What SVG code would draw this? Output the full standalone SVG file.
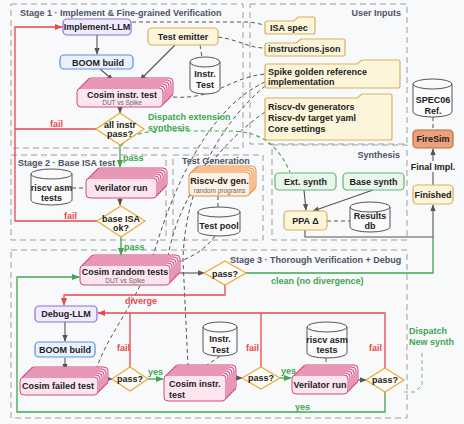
<svg xmlns="http://www.w3.org/2000/svg" width="464" height="424" viewBox="0 0 464 424">
<defs>
<marker id="ad" viewBox="0 0 10 10" refX="9" refY="5" markerWidth="6" markerHeight="6" orient="auto"><path d="M0,1 L10,5 L0,9 z" fill="#555"/></marker>
<marker id="ar" viewBox="0 0 10 10" refX="9" refY="5" markerWidth="6" markerHeight="6" orient="auto"><path d="M0,1 L10,5 L0,9 z" fill="#e5484d"/></marker>
<marker id="ag" viewBox="0 0 10 10" refX="9" refY="5" markerWidth="6" markerHeight="6" orient="auto"><path d="M0,1 L10,5 L0,9 z" fill="#3fa64f"/></marker>
<style>
text{font-family:"Liberation Sans",Arial,Helvetica,sans-serif;font-size:9px;font-weight:bold;fill:#222}
.c{text-anchor:middle}
.sm{font-size:6.5px;font-weight:normal;fill:#666}
.ttl{fill:#4d5463}
.gt{fill:#3fa64f}
.rt{fill:#e5484d}
.box{fill:none;stroke:#9c9c9c;stroke-width:1;stroke-dasharray:6 4}
.pk{fill:#fde5ef;stroke:#d4487c;stroke-width:1}
.og{fill:#fff2e4;stroke:#f08a3c;stroke-width:1}
.pu{fill:#efeafc;stroke:#8b6fd6;stroke-width:1.2}
.bl{fill:#eaf1fd;stroke:#5a8de0;stroke-width:1.2}
.ye{fill:#fdf5da;stroke:#d8b35c;stroke-width:1.2}
.gr{fill:#e9f6ec;stroke:#66b377;stroke-width:1.2}
.fs{fill:#eaa27a;stroke:#c4683c;stroke-width:1.2}
.dm{fill:#fffdf6;stroke:#e9a83a;stroke-width:1.2}
.cy{fill:#fbfbfb;stroke:#555;stroke-width:1}
.dl{fill:none;stroke:#555;stroke-width:1;stroke-dasharray:4 3}
.sd{fill:none;stroke:#555;stroke-width:1.1}
.rl{fill:none;stroke:#e5484d;stroke-width:1.3}
.gl{fill:none;stroke:#3fa64f;stroke-width:1.3}
.gd{fill:none;stroke:#3fa64f;stroke-width:1.1;stroke-dasharray:4 3}
</style>
</defs>
<rect width="464" height="424" fill="#f8f9fa"/>

<g id="frames">
<rect class="box" x="11" y="4" width="232" height="144"/>
<rect class="box" x="250" y="4" width="157" height="140"/>
<rect class="box" x="11" y="155" width="155" height="85"/>
<rect class="box" x="173" y="155" width="90" height="85"/>
<rect class="box" x="272" y="145" width="135" height="95"/>
<rect class="box" x="11" y="250" width="396" height="168"/>
<text class="ttl" x="20" y="16">Stage 1 · Implement &amp; Fine-grained Verification</text>
<text class="ttl" x="401" y="16" text-anchor="end">User Inputs</text>
<text class="ttl" x="18" y="166">Stage 2 · Base ISA test</text>
<text class="ttl" x="182" y="164">Test Generation</text>
<text class="ttl" x="400" y="158" text-anchor="end">Synthesis</text>
<text class="ttl" x="230" y="263">Stage 3 · Thorough Verification + Debug</text>
</g>

<g id="connectors">
<path class="dl" d="M132,22 L250,22 L265,25"/>
<path class="dl" d="M218,37 C240,40 248,48 265,48"/>
<path class="dl" d="M200,45 L202,57"/>
<path class="dl" d="M173,97 C215,100 228,78 265,74"/>
<path class="dl" d="M265,82 C215,105 180,170 158,240 C140,300 110,330 97,367"/>
<path class="dl" d="M265,86 C225,120 185,180 183,260 L188,366"/>
<path class="dl" d="M265,112 C225,140 180,190 168,256"/>
<path class="dl" d="M215,236 C205,250 190,258 178,262"/>
<path class="dl" d="M218,196 L218,207"/>
<path class="dl" d="M72,188 L86,188"/>
<path class="dl" d="M327,221 L350,221"/>
<path class="dl" d="M433,117 L433,130"/>
<path class="dl" d="M220,356 L200,370"/>
<path class="dl" d="M326,358 L326,366"/>
<path class="dl" d="M404,392 L415,392 L422,385 L422,350" style="stroke:#8aa58e"/>
<path class="gd" d="M121,146 C130,134 145,131 165,131 L230,131 C265,131 280,150 290,172"/>
<path class="sd" d="M97,35 L97,54" marker-end="url(#ad)"/>
<path class="sd" d="M100,69 L113,80" marker-end="url(#ad)"/>
<path class="sd" d="M175,45 L140,80" marker-end="url(#ad)"/>
<path class="sd" d="M120,107 L120,113" marker-end="url(#ad)"/>
<path class="sd" d="M120,198 L120,205" marker-end="url(#ad)"/>
<path class="sd" d="M304,190 L306,210" marker-end="url(#ad)"/>
<path class="sd" d="M373,190 L313,211" marker-end="url(#ad)"/>
<path class="sd" d="M305,230 L305,237 L433,237 L433,205" marker-end="url(#ad)"/>
<path class="sd" d="M433,185 L433,149" marker-end="url(#ad)"/>
<path class="sd" d="M180,273 L204,273" marker-end="url(#ad)"/>
<path class="sd" d="M65,322 L65,341" marker-end="url(#ad)"/>
<path class="sd" d="M65,358 L65,370" marker-end="url(#ad)"/>
<path class="sd" d="M104,379 L112,379" marker-end="url(#ad)"/>
<path class="sd" d="M232,378 L242,378" marker-end="url(#ad)"/>
<path class="sd" d="M357,380 L366,380" marker-end="url(#ad)"/>
<path class="rl" d="M97,221 L15,221 L15,27 L62,27" marker-end="url(#ar)"/>
<path class="rl" d="M96,129 L15,129"/>
<path class="rl" d="M225,285 L225,295 L64,295 L64,305" marker-end="url(#ar)"/>
<path class="rl" d="M385,368 L385,313 L98,313" marker-end="url(#ar)"/>
<path class="rl" d="M130,367 L130,313"/>
<path class="rl" d="M261,367 L261,313"/>
<path class="gl" d="M120,145 L120,167" marker-end="url(#ag)"/>
<path class="gl" d="M121,237 L121,255" marker-end="url(#ag)"/>
<path class="gl" d="M246,273 L433,273 L433,237"/>
<path class="gl" d="M148,379 L163,379" marker-end="url(#ag)"/>
<path class="gl" d="M280,378 L291,378" marker-end="url(#ag)"/>
<path class="gl" d="M385,392 L385,412 L17,412 L17,277 L79,277" marker-end="url(#ag)"/>
<text class="rt" x="50" y="127">fail</text>
<text class="rt" x="64" y="219">fail</text>
<text class="gt" x="123" y="161">pass</text>
<text class="gt" x="124" y="250">pass</text>
<text class="gt" x="148" y="120">Dispatch extension</text>
<text class="gt" x="148" y="131">synthesis</text>
<text class="gt" x="271" y="284">clean (no divergence)</text>
<text class="rt" x="125" y="304">diverge</text>
<text class="rt" x="117" y="351">fail</text>
<text class="rt" x="246" y="351">fail</text>
<text class="rt" x="369" y="351">fail</text>
<text class="gt" x="148" y="375">yes</text>
<text class="gt" x="281" y="374">yes</text>
<text class="gt" x="295" y="410">yes</text>
<text class="gt" x="409" y="334">Dispatch</text>
<text class="gt" x="409" y="345">New synth</text>
<rect x="412" y="161" width="44" height="11" fill="#f8f9fa"/>
<text class="c" x="433" y="170">Final Impl.</text>
</g>

<g id="implement-llm"><rect class="pu" x="63" y="19" width="68" height="16" rx="4"/><text class="c" x="97" y="30">Implement-LLM</text></g>
<g id="boom-build-1"><rect class="bl" x="60" y="55" width="73" height="14" rx="4"/><text class="c" x="98" y="65.5">BOOM build</text></g>
<g id="test-emitter"><rect class="ye" x="148" y="28" width="70" height="17" rx="4"/><text class="c" x="183" y="39.5">Test emitter</text></g>
<g id="instr-test-1"><path class="cy" d="M190,62 A15,5 0 0 1 220,62 V89 A15,5 0 0 1 190,89 Z M190,62 A15,5 0 0 0 220,62"/><text class="c" x="205" y="77">Instr.</text><text class="c" x="205" y="88">Test</text></g>
<g id="cosim-instr-1">
<rect class="pk" x="87" y="78" width="86" height="19" rx="4"/><rect class="pk" x="85" y="80" width="86" height="19" rx="4"/><rect class="pk" x="83" y="82" width="86" height="19" rx="4"/><rect class="pk" x="81" y="84" width="86" height="19" rx="4"/><rect class="pk" x="79" y="86" width="86" height="19" rx="4"/><rect class="pk" x="77" y="88" width="86" height="19" rx="4"/>
<text class="c" x="122" y="98">Cosim instr. test</text><text class="c sm" x="122" y="105">DUT vs Spike</text></g>
<g id="all-instr-pass"><path class="dm" d="M120,113 L144,129 L120,145 L96,129 Z"/><text class="c" x="120" y="128">all instr</text><text class="c" x="120" y="137">pass?</text></g>

<g id="isa-spec"><path class="ye" d="M267,21 H294 L298,17 H313 Q315,17 315,19 V32 Q315,34 313,34 H267 Q265,34 265,32 V23 Q265,21 267,21 Z"/><text x="270" y="31">ISA spec</text></g>
<g id="instructions-json"><path class="ye" d="M267,43 H296 L301,39 H343 Q345,39 345,41 V54 Q345,56 343,56 H267 Q265,56 265,54 V45 Q265,43 267,43 Z"/><text x="268" y="52">instructions.json</text></g>
<g id="spike"><path class="ye" d="M267,64 H357 L362,60 H398 Q400,60 400,62 V86 Q400,88 398,88 H267 Q265,88 265,86 V66 Q265,64 267,64 Z"/><text x="268" y="75">Spike golden reference</text><text x="268" y="85">implementation</text></g>
<g id="riscv-dv-inputs"><path class="ye" d="M267,98 H357 L362,94 H390 Q392,94 392,96 V138 Q392,140 390,140 H267 Q265,140 265,138 V100 Q265,98 267,98 Z"/><text x="268" y="110">Riscv-dv generators</text><text x="268" y="121">Riscv-dv target yaml</text><text x="268" y="132">Core settings</text></g>

<g id="spec06"><path class="cy" d="M413,84 A19.5,5 0 0 1 452,84 V112 A19.5,5 0 0 1 413,112 Z M413,84 A19.5,5 0 0 0 452,84"/><text class="c" x="433" y="103">SPEC06</text><text class="c" x="433" y="114">Ref.</text></g>
<g id="firesim"><rect class="fs" x="413" y="130" width="40" height="18" rx="4"/><text class="c" x="433" y="142">FireSim</text></g>
<g id="finished"><rect class="ye" x="413" y="185" width="40" height="19" rx="4"/><text class="c" x="433" y="197.5">Finished</text></g>

<g id="riscv-asm-2"><path class="cy" d="M31,174 A20.5,5 0 0 1 72,174 V200 A20.5,5 0 0 1 31,200 Z M31,174 A20.5,5 0 0 0 72,174"/><text class="c" x="51.5" y="191">riscv asm</text><text class="c" x="51.5" y="201">tests</text></g>
<g id="verilator-2">
<rect class="pk" x="96" y="168" width="71" height="20" rx="4"/><rect class="pk" x="94" y="170" width="71" height="20" rx="4"/><rect class="pk" x="92" y="172" width="71" height="20" rx="4"/><rect class="pk" x="90" y="174" width="71" height="20" rx="4"/><rect class="pk" x="88" y="176" width="71" height="20" rx="4"/><rect class="pk" x="86" y="178" width="71" height="20" rx="4"/>
<text class="c" x="121" y="191">Verilator run</text></g>
<g id="base-isa-ok"><path class="dm" d="M121,206 L145,221 L121,237 L97,221 Z"/><text class="c" x="121" y="222">base ISA</text><text class="c" x="121" y="231">ok?</text></g>

<g id="riscv-dv-gen">
<rect class="og" x="195" y="166" width="61" height="24" rx="4"/><rect class="og" x="193" y="168" width="61" height="24" rx="4"/><rect class="og" x="191" y="170" width="61" height="24" rx="4"/><rect class="og" x="189" y="172" width="61" height="24" rx="4"/>
<text class="c" x="219.5" y="184">Riscv-dv gen.</text><text class="c sm" x="219.5" y="193">random programs</text></g>
<g id="test-pool"><path class="cy" d="M198,212 A21,5 0 0 1 240,212 V231 A21,5 0 0 1 198,231 Z M198,212 A21,5 0 0 0 240,212"/><text class="c" x="219" y="229">Test pool</text></g>

<g id="ext-synth"><rect class="gr" x="275" y="173" width="61" height="17" rx="4"/><text class="c" x="305.5" y="184.5">Ext. synth</text></g>
<g id="base-synth"><rect class="gr" x="343" y="173" width="61" height="17" rx="4"/><text class="c" x="373.5" y="184.5">Base synth</text></g>
<g id="ppa"><rect class="ye" x="284" y="211" width="43" height="19" rx="4"/><text class="c" x="305.5" y="224">PPA Δ</text></g>
<g id="results-db"><path class="cy" d="M350,207 A20,5 0 0 1 390,207 V227 A20,5 0 0 1 350,227 Z M350,207 A20,5 0 0 0 390,207"/><text class="c" x="370" y="219">Results</text><text class="c" x="370" y="229">db</text></g>

<g id="cosim-random">
<rect class="pk" x="90" y="255" width="90" height="20" rx="4"/><rect class="pk" x="88" y="257" width="90" height="20" rx="4"/><rect class="pk" x="86" y="259" width="90" height="20" rx="4"/><rect class="pk" x="84" y="261" width="90" height="20" rx="4"/><rect class="pk" x="82" y="263" width="90" height="20" rx="4"/><rect class="pk" x="80" y="265" width="90" height="20" rx="4"/>
<text class="c" x="125" y="275">Cosim random tests</text><text class="c sm" x="125" y="283">DUT vs Spike</text></g>
<g id="stage3-pass"><path class="dm" d="M225,261 L246,273 L225,285 L204,273 Z"/><text class="c" x="225" y="276.5">pass?</text></g>

<g id="debug-llm"><rect class="pu" x="35" y="306" width="62" height="16" rx="4"/><text class="c" x="66" y="317">Debug-LLM</text></g>
<g id="boom-build-3"><rect class="bl" x="35" y="342" width="60" height="15" rx="4"/><text class="c" x="65" y="353">BOOM build</text></g>
<g id="cosim-failed">
<rect class="pk" x="30" y="367" width="78" height="18" rx="4"/><rect class="pk" x="28" y="369" width="78" height="18" rx="4"/><rect class="pk" x="26" y="371" width="78" height="18" rx="4"/><rect class="pk" x="24" y="373" width="78" height="18" rx="4"/><rect class="pk" x="22" y="375" width="78" height="18" rx="4"/><rect class="pk" x="20" y="377" width="78" height="18" rx="4"/>
<text class="c" x="58" y="389">Cosim failed test</text></g>
<g id="pass-1"><path class="dm" d="M130,367 L148,379 L130,391 L112,379 Z"/><text class="c" x="130" y="382">pass?</text></g>

<g id="instr-test-3"><path class="cy" d="M203,327 A17,5 0 0 1 237,327 V351 A17,5 0 0 1 203,351 Z M203,327 A17,5 0 0 0 237,327"/><text class="c" x="220" y="342">Instr.</text><text class="c" x="220" y="353">Test</text></g>
<g id="cosim-instr-3">
<rect class="pk" x="174" y="365" width="62" height="26" rx="4"/><rect class="pk" x="172" y="367" width="62" height="26" rx="4"/><rect class="pk" x="170" y="369" width="62" height="26" rx="4"/><rect class="pk" x="168" y="371" width="62" height="26" rx="4"/><rect class="pk" x="166" y="373" width="62" height="26" rx="4"/><rect class="pk" x="164" y="375" width="62" height="26" rx="4"/>
<text x="169" y="387">Cosim instr.</text><text x="169" y="398">test</text></g>
<g id="pass-2"><path class="dm" d="M261,367 L280,378 L261,389 L242,378 Z"/><text class="c" x="261" y="381">pass?</text></g>

<g id="riscv-asm-3"><path class="cy" d="M307,327 A20,5 0 0 1 347,327 V353 A20,5 0 0 1 307,353 Z M307,327 A20,5 0 0 0 347,327"/><text class="c" x="327" y="343">riscv asm</text><text class="c" x="327" y="353">tests</text></g>
<g id="verilator-3">
<rect class="pk" x="302" y="365" width="56" height="19" rx="4"/><rect class="pk" x="300" y="367" width="56" height="19" rx="4"/><rect class="pk" x="298" y="369" width="56" height="19" rx="4"/><rect class="pk" x="296" y="371" width="56" height="19" rx="4"/><rect class="pk" x="294" y="373" width="56" height="19" rx="4"/><rect class="pk" x="292" y="375" width="56" height="19" rx="4"/>
<text class="c" x="320" y="388">Verilator run</text></g>
<g id="pass-3"><path class="dm" d="M385,368 L404,380 L385,392 L366,380 Z"/><text class="c" x="385" y="383">pass?</text></g>
</svg>
